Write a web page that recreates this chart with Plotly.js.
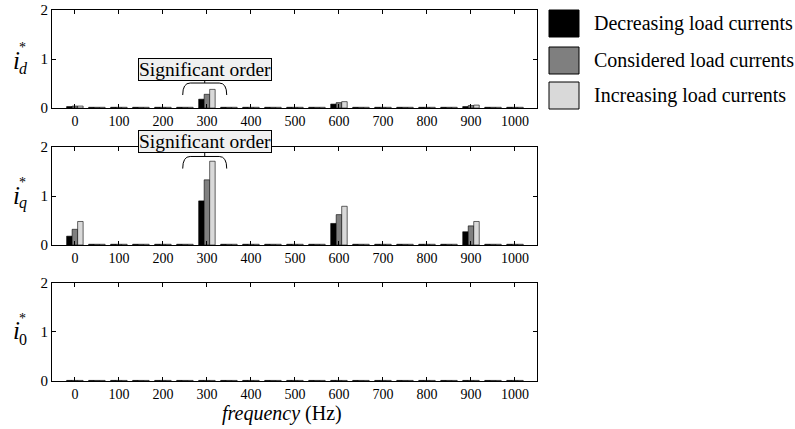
<!DOCTYPE html>
<html>
<head>
<meta charset="utf-8">
<script src="https://cdn.plot.ly/plotly-3.0.1.min.js"></script>
<style>html,body{margin:0;padding:0;background:#fff;}#chart{width:795px;height:429px;}</style>
</head>
<body>
<div id="chart"></div>
<script>
// ---- data ----
var freq = [0,50,100,150,200,250,300,350,400,450,500,550,600,650,700,750,800,850,900,950,1000];
var seriesNames = ["Decreasing load currents","Considered load currents","Increasing load currents"];
var seriesColors = ["#000000","#7f7f7f","#d9d9d9"];

// i_d*
var idDec = [0.03,0.015,0.015,0.015,0.015,0.015,0.18,0.015,0.015,0.015,0.015,0.015,0.08,0.015,0.015,0.015,0.015,0.015,0.03,0.015,0.015];
var idCon = [0.04,0.015,0.015,0.015,0.015,0.015,0.28,0.015,0.015,0.015,0.015,0.015,0.11,0.015,0.015,0.015,0.015,0.015,0.05,0.015,0.015];
var idInc = [0.04,0.015,0.015,0.015,0.015,0.015,0.38,0.015,0.015,0.015,0.015,0.015,0.13,0.015,0.015,0.015,0.015,0.015,0.06,0.015,0.015];
// i_q*
var iqDec = [0.18,0.015,0.015,0.015,0.015,0.015,0.90,0.015,0.015,0.015,0.015,0.015,0.44,0.015,0.015,0.015,0.015,0.015,0.27,0.015,0.015];
var iqCon = [0.32,0.015,0.015,0.015,0.015,0.015,1.33,0.015,0.015,0.015,0.015,0.015,0.62,0.015,0.015,0.015,0.015,0.015,0.39,0.015,0.015];
var iqInc = [0.48,0.015,0.015,0.015,0.015,0.015,1.71,0.015,0.015,0.015,0.015,0.015,0.79,0.015,0.015,0.015,0.015,0.015,0.48,0.015,0.015];
// i_0*
var i0Dec = [0.012,0.012,0.012,0.012,0.012,0.012,0.012,0.012,0.012,0.012,0.012,0.012,0.012,0.012,0.012,0.012,0.012,0.012,0.012,0.012,0.012];
var i0Con = [0.012,0.012,0.012,0.012,0.012,0.012,0.012,0.012,0.012,0.012,0.012,0.012,0.012,0.012,0.012,0.012,0.012,0.012,0.012,0.012,0.012];
var i0Inc = [0.012,0.012,0.012,0.012,0.012,0.012,0.012,0.012,0.012,0.012,0.012,0.012,0.012,0.012,0.012,0.012,0.012,0.012,0.012,0.012,0.012];

var xTicks = [0,100,200,300,400,500,600,700,800,900,1000];
var yTicks = [0,1,2];
var annotText = "Significant order";
var xTitle = "<i>frequency</i> (Hz)";

// ---- build ----
var panels = [[idDec,idCon,idInc],[iqDec,iqCon,iqInc],[i0Dec,i0Con,i0Inc]];
var axSuffix = ["","2","3"];
var traces = [];
panels.forEach(function(p, pi){
  p.forEach(function(vals, si){
    traces.push({
      type:"bar", x:freq, y:vals, name:seriesNames[si],
      xaxis:"x"+axSuffix[pi], yaxis:"y"+axSuffix[pi],
      marker:{color:seriesColors[si], line:{color:"#000", width:0.6}},
      showlegend:false, hoverinfo:"skip"
    });
  });
});

var FONT = "Liberation Serif, Times New Roman, serif";
function xax(anchor){
  return {domain:[0,1], anchor:anchor, range:[-52,1050], tickmode:"array", tickvals:xTicks,
    ticks:"inside", ticklen:4, tickcolor:"#000", showline:true, linecolor:"#000", linewidth:1,
    mirror:"ticks", showgrid:false, zeroline:false, tickfont:{family:FONT,size:14,color:"#000"}};
}
function yax(dom, anchor){
  return {domain:dom, anchor:anchor, range:[0,2], tickmode:"array", tickvals:yTicks,
    ticks:"inside", ticklen:4, tickcolor:"#000", showline:true, linecolor:"#000", linewidth:1,
    mirror:"ticks", showgrid:false, zeroline:false, tickfont:{family:FONT,size:15,color:"#000"}};
}

var layout = {
  width:795, height:429,
  margin:{l:52, r:258, t:10, b:48, pad:0},
  paper_bgcolor:"#fff", plot_bgcolor:"#fff",
  barmode:"group", bargap:0.25, bargroupgap:0,
  font:{family:FONT, color:"#000"},
  showlegend:false,
  xaxis: xax("y"),
  yaxis: yax([0.7358,1],"x"),
  xaxis2: xax("y2"),
  yaxis2: yax([0.3666,0.6307],"x2"),
  xaxis3: xax("y3"),
  yaxis3: yax([0,0.2642],"x3"),
  shapes:[], annotations:[]
};

// x title
layout.annotations.push({text:xTitle, xref:"paper", yref:"paper", x:(282-52)/485, y:(381-413)/371,
  showarrow:false, xanchor:"center", yanchor:"middle", font:{family:FONT,size:20,color:"#000"}});

// braces
function brace(xr, yr, yBot, yTop, yStem){
  return {type:"path", xref:xr, yref:yr, line:{color:"#000", width:1},
    path:"M245,"+yBot+" Q245,"+yTop+" 262,"+yTop+" L328,"+yTop+" Q345,"+yTop+" 345,"+yBot+
         " M295,"+yTop+" L295,"+yStem};
}
layout.shapes.push(brace("x","y",0.265,0.51,0.56));
layout.shapes.push(brace("x2","y2",1.56,1.807,1.88));

// "Significant order" boxes
[(381-69)/371, (381-141.5)/371].forEach(function(v){
  layout.annotations.push({text:annotText, xref:"x", x:295, yref:"paper", y:v,
    showarrow:false, xanchor:"center", yanchor:"middle",
    font:{family:FONT,size:19.5,color:"#000"}, bgcolor:"#f0f0f0", bordercolor:"#000", borderwidth:1, borderpad:0});
});

// y labels
var ylab = [["d",0.8652],["q",0.5013],["0",0.1348]];
ylab.forEach(function(l){
  var sub = l[0]==="0" ? "0" : "<i>"+l[0]+"</i>";
  layout.annotations.push({text:"<i>i</i>", xref:"paper", yref:"paper", x:-0.0742, y:l[1], showarrow:false,
    xanchor:"center", yanchor:"middle", font:{family:FONT,size:25,color:"#000"}});
  layout.annotations.push({text:"*", xref:"paper", yref:"paper", x:-0.0609, y:l[1]+0.034, showarrow:false,
    xanchor:"center", yanchor:"middle", font:{family:FONT,size:14,color:"#000"}});
  layout.annotations.push({text:sub, xref:"paper", yref:"paper", x:-0.0588, y:l[1]-0.022, showarrow:false,
    xanchor:"center", yanchor:"middle", font:{family:FONT,size:16,color:"#000"}});
});

// legend (manual)
var legY = [[10,37],[47,74],[82,109]];
legY.forEach(function(r, i){
  var y0 = (381 - r[1])/371, y1 = (381 - r[0])/371;
  layout.shapes.push({type:"rect", xref:"paper", yref:"paper", x0:(549-52)/485, x1:(579-52)/485, y0:y0, y1:y1,
    fillcolor:seriesColors[i], line:{color:"#000", width:1}});
  layout.annotations.push({text:seriesNames[i], xref:"paper", yref:"paper", x:(592-52)/485, y:(y0+y1)/2,
    showarrow:false, xanchor:"left", yanchor:"middle", font:{family:FONT,size:20,color:"#000"}});
});

Plotly.newPlot("chart", traces, layout, {displayModeBar:false, staticPlot:true});
</script>
</body>
</html>
